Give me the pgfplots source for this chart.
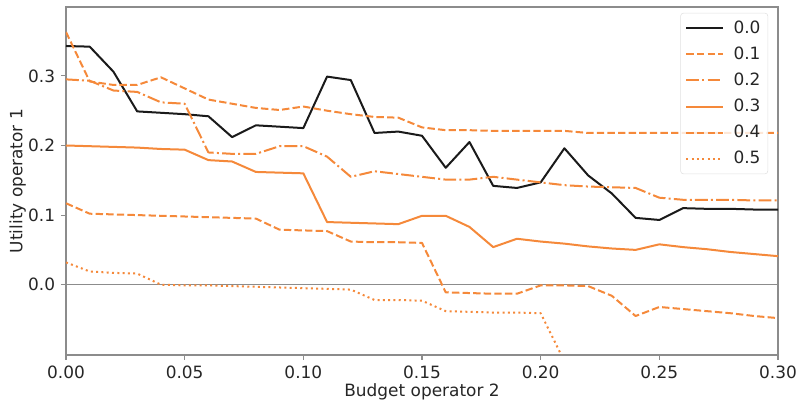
\documentclass[border=0pt]{standalone}
\usepackage{fontspec}
\setmainfont{DejaVu Sans}
\usepackage{pgfplots}
\pgfplotsset{compat=1.18}
\definecolor{orng}{RGB}{245,137,58}
\definecolor{blk}{RGB}{26,26,26}
\definecolor{spine}{RGB}{140,140,140}
\definecolor{txt}{RGB}{38,38,38}
\newcommand{\fs}{\fontsize{12.7}{15}\selectfont}
\begin{document}
\fs
\begin{tikzpicture}
\begin{axis}[
  name=ax,
  scale only axis,
  width=534pt, height=261pt,
  xmin=0, xmax=0.30, ymin=-0.101, ymax=0.399,
  xtick={0,0.05,0.10,0.15,0.20,0.25,0.30},
  ytick={0,0.1,0.2,0.3},
  xticklabel style={/pgf/number format/.cd,fixed,fixed zerofill,precision=2},
  yticklabel style={/pgf/number format/.cd,fixed,fixed zerofill,precision=1},
  /pgf/number format/assume math mode=true,
  axis line style={spine, line width=0.8pt},
  tick style={spine, line width=0.8pt},
  tick align=outside,
  major tick length=3.75pt,
  xtick pos=bottom, ytick pos=left,
  ticklabel style={font=\fs, text=txt},
  xlabel={Budget operator 2},
  ylabel={Utility operator 1},
  label style={font=\fs, text=txt},
  xlabel style={yshift=5pt},
  ylabel style={yshift=-7pt},
  legend cell align=left,
  legend style={at={(0.986,0.983)}, anchor=north east, draw=black!12, rounded corners=2pt,
    fill=white, fill opacity=0.8, text opacity=1, font=\fs, text=txt,
    row sep=4.3pt, inner sep=3.5pt,
    /tikz/every odd column/.append style={column sep=5pt}},
  legend image code/.code={\draw[#1] (0cm,0cm) -- (0.97cm,0cm);},
  every axis plot/.append style={line width=1.5pt, line join=round},
]
\addplot[spine, line width=0.8pt, forget plot] coordinates {(0,0) (0.30,0)};
\addplot[blk] coordinates {
(0,0.343)(0.01,0.342)(0.02,0.306)(0.03,0.249)(0.04,0.247)(0.05,0.245)(0.06,0.242)(0.07,0.212)(0.08,0.229)(0.09,0.227)(0.10,0.225)
(0.11,0.299)(0.12,0.294)(0.13,0.218)(0.14,0.220)(0.15,0.214)(0.16,0.168)(0.17,0.205)(0.18,0.142)(0.19,0.139)(0.20,0.147)
(0.21,0.196)(0.22,0.157)(0.23,0.131)(0.24,0.096)(0.25,0.093)(0.26,0.110)(0.27,0.109)(0.28,0.109)(0.29,0.108)(0.30,0.108)};
\addlegendentry{0.0}
\addplot[orng, dash pattern=on 5.55pt off 2.4pt] coordinates {
(0,0.363)(0.01,0.292)(0.02,0.287)(0.03,0.287)(0.04,0.298)(0.05,0.282)(0.06,0.266)(0.07,0.260)(0.08,0.254)(0.09,0.251)(0.10,0.256)
(0.11,0.250)(0.12,0.245)(0.13,0.241)(0.14,0.240)(0.15,0.226)(0.16,0.222)(0.17,0.222)(0.18,0.221)(0.19,0.221)(0.20,0.221)
(0.21,0.221)(0.22,0.218)(0.23,0.218)(0.24,0.218)(0.25,0.218)(0.26,0.218)(0.27,0.218)(0.28,0.218)(0.29,0.218)(0.30,0.218)};
\addlegendentry{0.1}
\addplot[orng, dash pattern=on 9.6pt off 2.4pt on 1.5pt off 2.4pt] coordinates {
(0,0.295)(0.01,0.293)(0.02,0.279)(0.03,0.277)(0.04,0.262)(0.05,0.260)(0.06,0.190)(0.07,0.188)(0.08,0.188)(0.09,0.199)(0.10,0.199)
(0.11,0.184)(0.12,0.155)(0.13,0.163)(0.14,0.159)(0.15,0.155)(0.16,0.151)(0.17,0.151)(0.18,0.155)(0.19,0.151)(0.20,0.147)
(0.21,0.143)(0.22,0.141)(0.23,0.140)(0.24,0.139)(0.25,0.125)(0.26,0.122)(0.27,0.122)(0.28,0.122)(0.29,0.121)(0.30,0.121)};
\addlegendentry{0.2}
\addplot[orng] coordinates {
(0,0.200)(0.01,0.199)(0.02,0.198)(0.03,0.197)(0.04,0.195)(0.05,0.194)(0.06,0.179)(0.07,0.177)(0.08,0.162)(0.09,0.161)(0.10,0.160)
(0.11,0.090)(0.12,0.089)(0.13,0.088)(0.14,0.087)(0.15,0.099)(0.16,0.099)(0.17,0.083)(0.18,0.054)(0.19,0.066)(0.20,0.062)
(0.21,0.059)(0.22,0.055)(0.23,0.052)(0.24,0.050)(0.25,0.058)(0.26,0.054)(0.27,0.051)(0.28,0.047)(0.29,0.044)(0.30,0.041)};
\addlegendentry{0.3}
\addplot[orng, dash pattern=on 5.55pt off 2.4pt] coordinates {
(0,0.117)(0.01,0.102)(0.02,0.101)(0.03,0.100)(0.04,0.099)(0.05,0.098)(0.06,0.097)(0.07,0.096)(0.08,0.095)(0.09,0.079)(0.10,0.078)
(0.11,0.077)(0.12,0.062)(0.13,0.061)(0.14,0.061)(0.15,0.060)(0.16,-0.011)(0.17,-0.012)(0.18,-0.013)(0.19,-0.013)(0.20,-0.001)
(0.21,-0.001)(0.22,-0.002)(0.23,-0.016)(0.24,-0.045)(0.25,-0.032)(0.26,-0.035)(0.27,-0.038)(0.28,-0.041)(0.29,-0.045)(0.30,-0.048)};
\addlegendentry{0.4}
\addplot[orng, dash pattern=on 1.5pt off 2.475pt, line cap=butt] coordinates {
(0,0.032)(0.01,0.019)(0.02,0.017)(0.03,0.016)(0.04,0.000)(0.05,-0.001)(0.06,-0.001)(0.07,-0.002)(0.08,-0.003)(0.09,-0.004)(0.10,-0.005)
(0.11,-0.006)(0.12,-0.007)(0.13,-0.022)(0.14,-0.022)(0.15,-0.023)(0.16,-0.038)(0.17,-0.039)(0.18,-0.040)(0.19,-0.040)(0.20,-0.041)
(0.21,-0.110)};
\addlegendentry{0.5}
\end{axis}
\pgfresetboundingbox
\path ([shift={(-49.5pt,-34.5pt)}]ax.south west) rectangle ([shift={(15pt,5.25pt)}]ax.north east);
\end{tikzpicture}
\end{document}
